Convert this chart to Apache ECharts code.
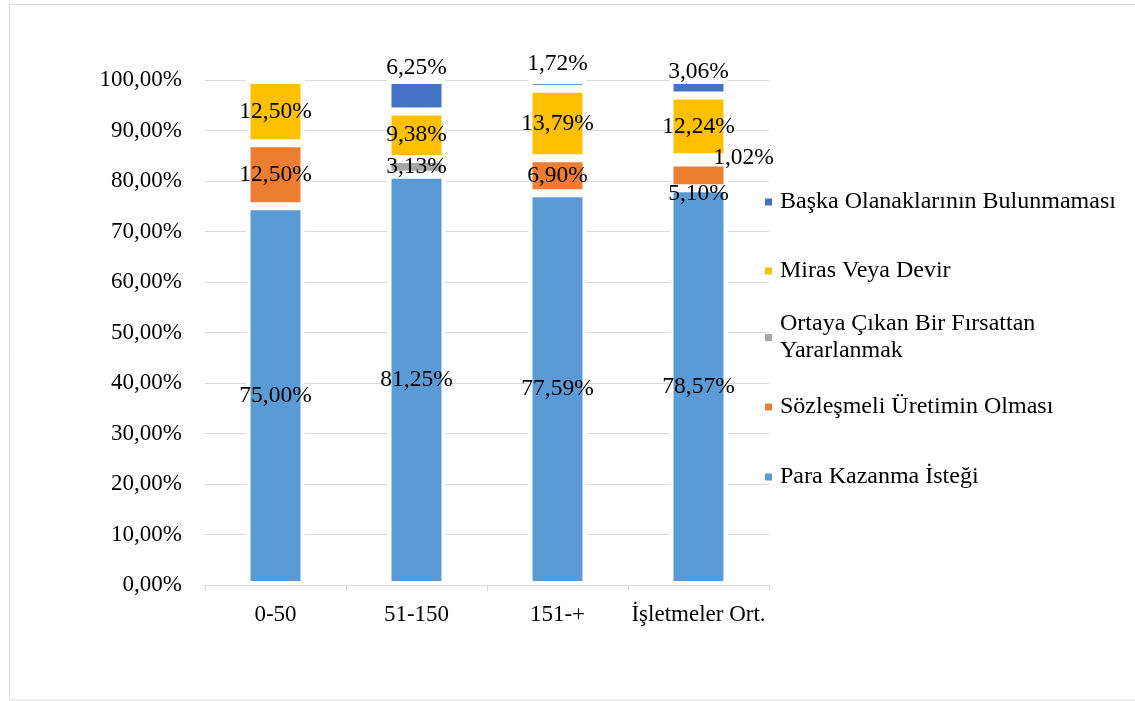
<!DOCTYPE html>
<html>
<head>
<meta charset="utf-8">
<script src="https://cdn.jsdelivr.net/npm/echarts@6/dist/echarts.min.js"></script>
<style>
html,body{margin:0;padding:0;background:#fff;}
#chart{width:1135px;height:701px;}
</style>
</head>
<body>
<div id="chart"></div>
<script>
const categories = ['0-50', '51-150', '151-+', 'İşletmeler Ort.'];
const seriesNames = [
  'Para Kazanma İsteği',
  'Sözleşmeli Üretimin Olması',
  'Ortaya Çıkan Bir Fırsattan Yararlanmak',
  'Miras Veya Devir',
  'Başka Olanaklarının Bulunmaması'
];
const para = [75.00, 81.25, 77.59, 78.57];
const sozlesmeli = [12.50, 0, 6.90, 5.10];
const ortaya = [0, 3.13, 0, 1.02];
const miras = [12.50, 9.38, 13.79, 12.24];
const baska = [0, 6.25, 1.72, 3.06];
const yMin = 0, yMax = 100, yStep = 10;

const values = [para, sozlesmeli, ortaya, miras, baska];
const colors = ['#5B9BD5', '#ED7D31', '#A5A5A5', '#FFC000', '#4472C4'];
// label nudges (style only) : series index -> category index -> offset
const labelOffsets = {
  1: {3: [0, 18]},
  2: {3: [45, -2]},
  4: {1: [0, 0], 2: [0, -4], 3: [0, 4]}
};
const FONT = 'Liberation Serif, Times New Roman, serif';
const fmt = v => v.toFixed(2).replace('.', ',') + '%';

const series = values.map((arr, si) => ({
  name: seriesNames[si],
  type: 'bar',
  stack: 'total',
  barWidth: 58,
  itemStyle: {color: colors[si], borderColor: '#fff', borderWidth: 4},
  label: {
    show: true,
    position: si === 4 ? 'top' : 'inside',
    distance: 0,
    fontFamily: FONT,
    fontSize: 23.5,
    color: '#000',
    formatter: p => p.value ? fmt(p.value) : ''
  },
  data: arr.map((v, ci) => {
    const off = labelOffsets[si] && labelOffsets[si][ci];
    return off ? {value: v, label: {offset: off}} : {value: v};
  })
}));

const legendTops = [465, 395, 297, 259, 190];
const legends = seriesNames.map((n, si) => {
  const multi = si === 2;
  return {
    orient: 'vertical',
    left: 765,
    top: legendTops[si],
    padding: 0,
    itemWidth: 7,
    itemHeight: 7,
    icon: 'rect',
    selectedMode: false,
    itemStyle: {borderWidth: 0},
    data: [n],
    formatter: multi ? () => 'Ortaya Çıkan Bir Fırsattan\nYararlanmak' : undefined,
    textStyle: {
      fontFamily: FONT,
      fontSize: 24,
      color: '#000',
      lineHeight: multi ? 27 : 24,
      padding: multi ? [27, 0, 0, 3] : [0, 0, 0, 3]
    }
  };
});

const chart = echarts.init(document.getElementById('chart'));
chart.setOption({
  animation: false,
  color: colors,
  graphic: [{
    type: 'rect',
    shape: {x: 9.5, y: 4.5, width: 1200, height: 695.5},
    style: {fill: 'none', stroke: '#d9d9d9', lineWidth: 1},
    silent: true
  }],
  grid: {left: 205, right: 366, top: 80, bottom: 116},
  legend: legends,
  xAxis: {
    type: 'category',
    data: categories,
    axisLine: {lineStyle: {color: '#d9d9d9', width: 1}},
    axisTick: {show: true, interval: 0, length: 6, lineStyle: {color: '#d9d9d9'}},
    axisLabel: {interval: 0, fontFamily: FONT, fontSize: 23, color: '#000', margin: 18}
  },
  yAxis: {
    type: 'value',
    min: yMin,
    max: yMax,
    interval: yStep,
    axisLine: {show: false},
    axisTick: {show: false},
    splitLine: {lineStyle: {color: '#d9d9d9', width: 1}},
    axisLabel: {fontFamily: FONT, fontSize: 23, color: '#000', margin: 23, formatter: v => fmt(v)}
  },
  series: series
});
</script>
</body>
</html>
